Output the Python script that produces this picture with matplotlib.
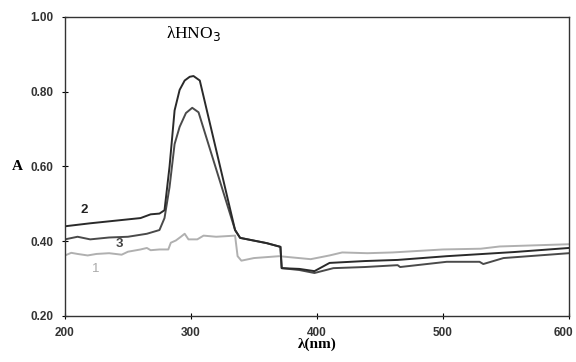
"""UV-Vis absorbance spectra with the HNO3 band"""
import matplotlib.pyplot as plt
from matplotlib.transforms import ScaledTranslation

WL1 = [200, 205, 210, 218, 225, 235, 245, 250, 260, 265, 268, 275, 282, 284,
       288, 292, 295, 298, 305, 310, 320, 335, 337, 340, 350, 370, 395, 410,
       420, 440, 460, 500, 530, 545, 600]
A1 = [0.362, 0.369, 0.366, 0.362, 0.366, 0.368, 0.364, 0.372, 0.378, 0.382,
      0.376, 0.378, 0.378, 0.396, 0.402, 0.412, 0.420, 0.405, 0.405, 0.415,
      0.412, 0.415, 0.360, 0.348, 0.355, 0.360, 0.352, 0.362, 0.370, 0.368,
      0.370, 0.378, 0.380, 0.386, 0.392]

WL2 = [200, 220, 240, 260, 268, 275, 279, 283, 287, 291, 295, 299, 302, 307,
       335, 339, 360, 371, 372, 386, 398, 410, 438, 464, 503, 556, 600]
A2 = [0.440, 0.448, 0.455, 0.462, 0.472, 0.474, 0.483, 0.600, 0.750, 0.805,
      0.830, 0.840, 0.842, 0.830, 0.430, 0.409, 0.395, 0.385, 0.328, 0.326,
      0.320, 0.342, 0.347, 0.350, 0.360, 0.371, 0.382]

WL3 = [200, 210, 220, 235, 250, 265, 275, 279, 283, 287, 291, 296, 301, 306,
       335, 339, 360, 371, 372, 386, 398, 413, 438, 464, 466, 503, 529, 532,
       548, 600]
A3 = [0.405, 0.412, 0.405, 0.410, 0.412, 0.420, 0.430, 0.462, 0.545, 0.660,
      0.706, 0.743, 0.757, 0.745, 0.430, 0.409, 0.395, 0.385, 0.328, 0.323,
      0.315, 0.328, 0.331, 0.336, 0.331, 0.345, 0.345, 0.339, 0.355, 0.368]

XTICKS = [200, 300, 400, 500, 600]
YTICKS = [0.20, 0.40, 0.60, 0.80, 1.00]


def main():
    """Go Main Go"""
    fig = plt.figure(figsize=(5.76, 3.62), dpi=100)
    ax = fig.add_axes([0.1128, 0.1271, 0.875, 0.826])
    ax.plot(WL1, A1, color='#b0b0b0', lw=1.4)
    ax.plot(WL3, A3, color='#4a4a4a', lw=1.4)
    ax.plot(WL2, A2, color='#2a2a2a', lw=1.4)

    ax.text(215, 0.475, "2", fontsize=9.5, color='#222222',
            family='Liberation Sans', fontweight='bold', ha='center')
    ax.text(243, 0.385, "3", fontsize=9.5, color='#444444',
            family='Liberation Sans', fontweight='bold', ha='center')
    ax.text(224, 0.318, "1", fontsize=9.5, color='#aaaaaa',
            family='Liberation Sans', ha='center')
    ax.text(302, 0.955, r"λHNO$_3$", fontsize=12.5, ha='center', va='center',
            family='Liberation Serif')

    ax.set_xlim(200, 600)
    ax.set_ylim(0.20, 1.00)
    ax.set_xticks(XTICKS)
    ax.set_yticks(YTICKS)
    ax.set_yticklabels(["%.2f" % v for v in YTICKS])
    ax.tick_params(direction='inout', length=4, width=0.8, pad=6)
    for lab in ax.get_xticklabels() + ax.get_yticklabels():
        lab.set_family('Liberation Sans')
        lab.set_fontsize(8.5)
        lab.set_fontweight('bold')
        lab.set_color('#333333')
    # keep the last x label inside the canvas
    last = ax.get_xticklabels()[-1]
    last.set_transform(last.get_transform() +
                       ScaledTranslation(-4 / 72, 0, fig.dpi_scale_trans))
    ax.set_xlabel("λ(nm)", family='Liberation Serif', fontweight='bold',
                  fontsize=11, labelpad=-1)
    fig.text(0.03, 0.539, "A", family='Liberation Serif', fontweight='bold',
             fontsize=11, va='center', ha='center')
    for sp in ax.spines.values():
        sp.set_color('#333333')
        sp.set_linewidth(1.0)
    fig.savefig('out.png')


if __name__ == '__main__':
    main()
